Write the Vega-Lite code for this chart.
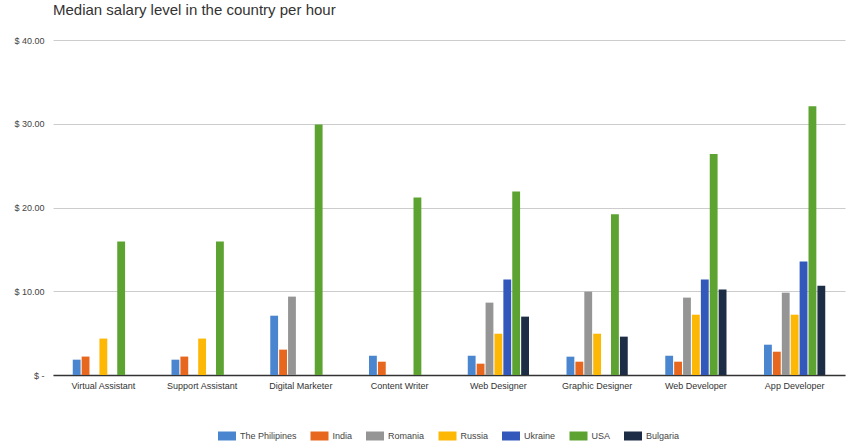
{
  "$schema": "https://vega.github.io/schema/vega-lite/v6.json",
  "autosize": {"type": "none"},
  "width": 792,
  "height": 335,
  "padding": {"left": 53, "top": 40, "right": 21, "bottom": 73},
  "background": "white",
  "title": {
    "text": "Median salary level in the country per hour",
    "anchor": "start",
    "frame": "group",
    "font": "Liberation Sans",
    "fontSize": 15,
    "fontWeight": "normal",
    "color": "#333333",
    "offset": 18
  },
  "data": {
    "values": [
      {"job": "Virtual Assistant", "country": "The Philipines", "salary": 1.83},
      {"job": "Virtual Assistant", "country": "India", "salary": 2.2},
      {"job": "Virtual Assistant", "country": "Russia", "salary": 4.35},
      {"job": "Virtual Assistant", "country": "USA", "salary": 15.95},
      {"job": "Support Assistant", "country": "The Philipines", "salary": 1.83},
      {"job": "Support Assistant", "country": "India", "salary": 2.2},
      {"job": "Support Assistant", "country": "Russia", "salary": 4.35},
      {"job": "Support Assistant", "country": "USA", "salary": 15.95},
      {"job": "Digital Marketer", "country": "The Philipines", "salary": 7.08},
      {"job": "Digital Marketer", "country": "India", "salary": 3.03},
      {"job": "Digital Marketer", "country": "Romania", "salary": 9.36},
      {"job": "Digital Marketer", "country": "USA", "salary": 29.9},
      {"job": "Content Writer", "country": "The Philipines", "salary": 2.3},
      {"job": "Content Writer", "country": "India", "salary": 1.59},
      {"job": "Content Writer", "country": "USA", "salary": 21.2},
      {"job": "Web Designer", "country": "The Philipines", "salary": 2.3},
      {"job": "Web Designer", "country": "India", "salary": 1.35},
      {"job": "Web Designer", "country": "Romania", "salary": 8.64},
      {"job": "Web Designer", "country": "Russia", "salary": 4.93},
      {"job": "Web Designer", "country": "Ukraine", "salary": 11.4},
      {"job": "Web Designer", "country": "USA", "salary": 21.9},
      {"job": "Web Designer", "country": "Bulgaria", "salary": 6.97},
      {"job": "Graphic Designer", "country": "The Philipines", "salary": 2.19},
      {"job": "Graphic Designer", "country": "India", "salary": 1.59},
      {"job": "Graphic Designer", "country": "Romania", "salary": 9.95},
      {"job": "Graphic Designer", "country": "Russia", "salary": 4.93},
      {"job": "Graphic Designer", "country": "USA", "salary": 19.2},
      {"job": "Graphic Designer", "country": "Bulgaria", "salary": 4.58},
      {"job": "Web Developer", "country": "The Philipines", "salary": 2.3},
      {"job": "Web Developer", "country": "India", "salary": 1.59},
      {"job": "Web Developer", "country": "Romania", "salary": 9.24},
      {"job": "Web Developer", "country": "Russia", "salary": 7.2},
      {"job": "Web Developer", "country": "Ukraine", "salary": 11.4},
      {"job": "Web Developer", "country": "USA", "salary": 26.4},
      {"job": "Web Developer", "country": "Bulgaria", "salary": 10.2},
      {"job": "App Developer", "country": "The Philipines", "salary": 3.62},
      {"job": "App Developer", "country": "India", "salary": 2.78},
      {"job": "App Developer", "country": "Romania", "salary": 9.83},
      {"job": "App Developer", "country": "Russia", "salary": 7.2},
      {"job": "App Developer", "country": "Ukraine", "salary": 13.54},
      {"job": "App Developer", "country": "USA", "salary": 32.1},
      {"job": "App Developer", "country": "Bulgaria", "salary": 10.67}
    ]
  },
  "mark": {"type": "bar"},
  "encoding": {
    "x": {
      "field": "job",
      "type": "nominal",
      "scale": {
        "domain": ["Virtual Assistant", "Support Assistant", "Digital Marketer", "Content Writer", "Web Designer", "Graphic Designer", "Web Developer", "App Developer"],
        "paddingInner": 0.38,
        "paddingOuter": 0.2
      },
      "axis": {
        "title": null,
        "labelAngle": 0,
        "labelFont": "Liberation Sans",
        "labelFontSize": 9,
        "labelColor": "#333333",
        "labelPadding": 6,
        "ticks": false,
        "domainColor": "#333333",
        "domainWidth": 1.5,
        "grid": false
      }
    },
    "xOffset": {
      "field": "country",
      "type": "nominal",
      "scale": {
        "domain": ["The Philipines", "India", "Romania", "Russia", "Ukraine", "USA", "Bulgaria"],
        "paddingInner": 0.12,
        "paddingOuter": 0
      }
    },
    "y": {
      "field": "salary",
      "type": "quantitative",
      "scale": {"domain": [0, 40], "nice": false},
      "axis": {
        "title": null,
        "values": [0, 10, 20, 30, 40],
        "labelExpr": "datum.value == 0 ? '$ -' : '$ ' + format(datum.value, '.2f')",
        "labelFont": "Liberation Sans",
        "labelFontSize": 9,
        "labelColor": "#444444",
        "labelPadding": 9,
        "ticks": false,
        "domain": false,
        "gridColor": "#cccccc",
        "gridWidth": 1
      }
    },
    "color": {
      "field": "country",
      "type": "nominal",
      "scale": {
        "domain": ["The Philipines", "India", "Romania", "Russia", "Ukraine", "USA", "Bulgaria"],
        "range": ["#4A86CF", "#E8671E", "#959595", "#FDB705", "#3358BB", "#5DA331", "#1D2D45"]
      },
      "legend": {
        "title": null,
        "orient": "none",
        "legendX": 165,
        "legendY": 387,
        "direction": "horizontal",
        "symbolType": "M-1,-0.5H1V0.5H-1Z",
        "symbolSize": 324,
        "symbolStrokeWidth": 0,
        "labelFont": "Liberation Sans",
        "labelFontSize": 9,
        "labelColor": "#444444",
        "labelOffset": 4,
        "columnPadding": 13.5
      }
    }
  },
  "config": {
    "view": {"stroke": null}
  }
}
